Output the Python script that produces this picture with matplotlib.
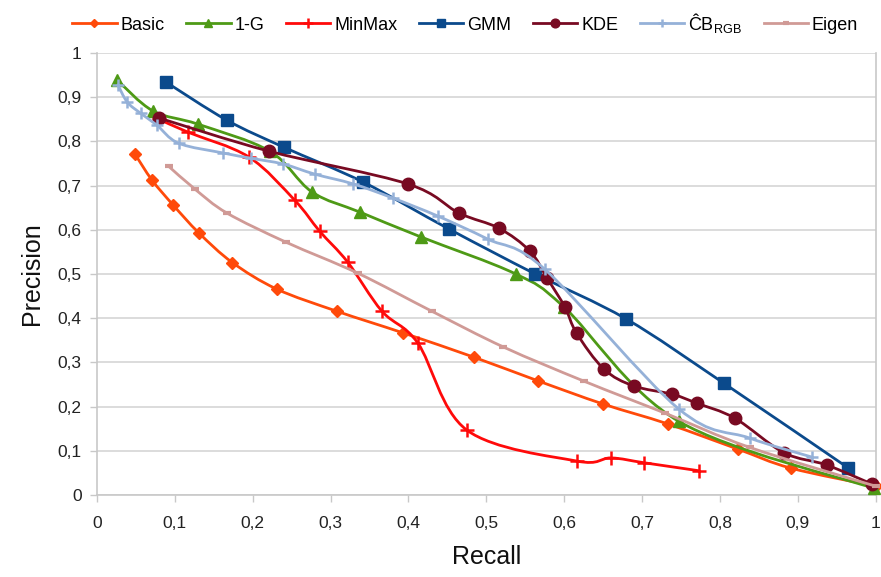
import numpy as np
import matplotlib
matplotlib.use('Agg')
import matplotlib.pyplot as plt
from matplotlib.path import Path
from matplotlib.patches import PathPatch
from matplotlib.lines import Line2D
from matplotlib.ticker import FuncFormatter, MultipleLocator

plt.rcParams['font.family'] = ['Liberation Sans', 'DejaVu Sans']
plt.rcParams['mathtext.fontset'] = 'custom'
plt.rcParams['mathtext.rm'] = 'Liberation Sans'

# recall / precision
basic_x = [0.049, 0.071, 0.098, 0.131, 0.174, 0.231, 0.308, 0.393, 0.484, 0.567, 0.650, 0.733, 0.823, 0.891, 1.0]
basic_y = [0.771, 0.712, 0.656, 0.593, 0.526, 0.466, 0.416, 0.367, 0.312, 0.258, 0.206, 0.161, 0.104, 0.061, 0.02]

oneg_x = [0.026, 0.072, 0.130, 0.222, 0.276, 0.338, 0.416, 0.538, 0.600, 0.747, 0.998]
oneg_y = [0.939, 0.869, 0.839, 0.778, 0.686, 0.640, 0.584, 0.500, 0.425, 0.167, 0.015]

minmax_x = [0.080, 0.117, 0.195, 0.254, 0.286, 0.322, 0.366, 0.412, 0.475, 0.616, 0.660, 0.703, 0.773]
minmax_y = [0.850, 0.821, 0.765, 0.667, 0.597, 0.527, 0.416, 0.344, 0.147, 0.077, 0.084, 0.073, 0.055]

gmm_x = [0.089, 0.167, 0.240, 0.342, 0.452, 0.563, 0.680, 0.805, 0.965]
gmm_y = [0.934, 0.848, 0.787, 0.708, 0.602, 0.500, 0.398, 0.253, 0.061]

kde_x = [0.080, 0.221, 0.399, 0.465, 0.516, 0.556, 0.578, 0.601, 0.616, 0.651, 0.689, 0.739, 0.770, 0.819, 0.882, 0.937, 0.995]
kde_y = [0.853, 0.778, 0.704, 0.638, 0.604, 0.552, 0.491, 0.425, 0.366, 0.285, 0.247, 0.228, 0.208, 0.174, 0.096, 0.068, 0.025]

cb_x = [0.027, 0.039, 0.056, 0.077, 0.105, 0.162, 0.198, 0.239, 0.280, 0.329, 0.380, 0.438, 0.502, 0.575, 0.747, 0.838, 0.918]
cb_y = [0.928, 0.889, 0.864, 0.837, 0.796, 0.774, 0.762, 0.749, 0.726, 0.704, 0.672, 0.631, 0.579, 0.511, 0.195, 0.129, 0.086]

eigen_x = [0.092, 0.126, 0.167, 0.243, 0.335, 0.430, 0.522, 0.625, 0.730, 0.838, 1.0]
eigen_y = [0.744, 0.692, 0.638, 0.572, 0.502, 0.416, 0.335, 0.258, 0.185, 0.108, 0.02]

names = ['Basic', '1-G', 'MinMax', 'GMM', 'KDE', 'ĈB$_{\\mathrm{RGB}}$', 'Eigen']
colors = ['#FF4A0A', '#4E9A16', '#FF0A0A', '#0B4A8C', '#780A22', '#95B1D8', '#D09A96']
xs = [basic_x, oneg_x, minmax_x, gmm_x, kde_x, cb_x, eigen_x]
ys = [basic_y, oneg_y, minmax_y, gmm_y, kde_y, cb_y, eigen_y]
markers = ['D', '^', '+', 's', 'o', '+', '_']
msizes = [6.5, 9, 10, 9, 9, 9, 6]
mews = [1, 1, 1.8, 1, 1, 1.8, 3]


def smooth_path(x, y):
    # excel-like smoothed line through the points (catmull-rom beziers)
    p = np.column_stack([x, y])
    n = len(p)
    verts = [p[0]]
    codes = [Path.MOVETO]
    for i in range(n - 1):
        p0 = p[i - 1] if i > 0 else p[i]
        p3 = p[i + 2] if i + 2 < n else p[i + 1]
        verts += [p[i] + (p[i + 1] - p0) / 6, p[i + 1] - (p3 - p[i]) / 6, p[i + 1]]
        codes += [Path.CURVE4] * 3
    return Path(verts, codes)


fig = plt.figure(figsize=(8.81, 5.77), dpi=100)
ax = fig.add_axes([0.110, 0.142, 0.884, 0.766])

handles = []
for k in range(len(names)):
    z = 3 + k
    patch = PathPatch(smooth_path(xs[k], ys[k]), fill=False, edgecolor=colors[k],
                      lw=2.0, zorder=z, clip_on=False, capstyle='round', joinstyle='round')
    ax.add_patch(patch)
    ax.plot(xs[k], ys[k], ls='none', marker=markers[k], ms=msizes[k], mew=mews[k],
            color=colors[k], mec=colors[k], zorder=z, clip_on=False)
    handles.append(Line2D([], [], color=colors[k], lw=2.0, marker=markers[k],
                          ms=msizes[k] * 0.7, mew=mews[k], mec=colors[k]))

ax.set_xlim(0, 1)
ax.set_ylim(0, 1)
ax.xaxis.set_major_locator(MultipleLocator(0.1))
ax.yaxis.set_major_locator(MultipleLocator(0.1))
fmt = FuncFormatter(lambda v, p: ('%g' % round(v, 2)).replace('.', ','))
ax.xaxis.set_major_formatter(fmt)
ax.yaxis.set_major_formatter(fmt)

ax.grid(axis='y', color='#D9D9D9', lw=1.3)
ax.set_axisbelow(True)
for s in ['left', 'bottom', 'right']:
    ax.spines[s].set_color('#C8C8C8')
    ax.spines[s].set_linewidth(1.2)
ax.spines['top'].set_visible(False)
ax.tick_params(axis='both', colors='#C8C8C8', labelcolor='#222222', labelsize=12.5,
               length=5, width=1)
ax.tick_params(axis='x', pad=10)
ax.tick_params(axis='y', pad=6)

ax.set_xlabel('Recall', fontsize=18, labelpad=10, color='#111111')
ax.set_ylabel('Precision', fontsize=18, labelpad=10, color='#111111')

fig.legend(handles, names, loc='center', bbox_to_anchor=(0.528, 0.961), ncol=7,
           frameon=False, fontsize=13, handlelength=2.45, handletextpad=0.22,
           columnspacing=1.2)

fig.savefig('out.png', dpi=100)
